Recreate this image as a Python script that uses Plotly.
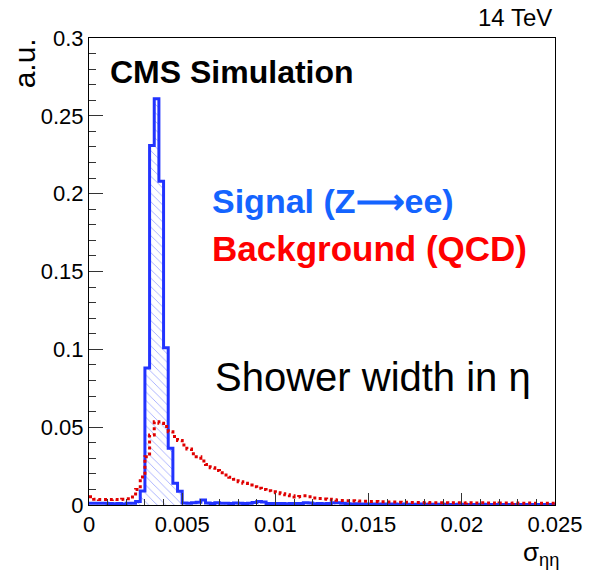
import numpy as np
import plotly.graph_objects as go

# ---- data (100 bins of sigma_ietaieta from 0 to 0.025) ----
x_min = 0.0
x_max = 0.025
n_bins = 100

signal_vals = [
    0.0012, 0.0011, 0.0011, 0.0012, 0.0010, 0.0008, 0.0009, 0.0006, 0.0011, 0.0012,
    0.0022, 0.0090, 0.0880, 0.2310, 0.2610, 0.2080, 0.1010, 0.0365, 0.0140, 0.0088,
    0.0013, 0.0012, 0.0014, 0.0018, 0.0032, 0.0013, 0.0010, 0.0014, 0.0011, 0.0012,
    0.0010, 0.0013, 0.0012, 0.0010, 0.0011, 0.0016, 0.0022, 0.0020, 0.0010, 0.0009,
    0.0010, 0.0009, 0.0008, 0.0009, 0.0010, 0.0009, 0.0015, 0.0013, 0.0008, 0.0009,
    0.0008, 0.0009, 0.0014, 0.0015, 0.0012, 0.0008, 0.0007, 0.0008, 0.0007, 0.0007,
    0.0006, 0.0007, 0.0006, 0.0006, 0.0007, 0.0006, 0.0005, 0.0006, 0.0005, 0.0005,
    0.0005, 0.0006, 0.0005, 0.0005, 0.0004, 0.0005, 0.0005, 0.0004, 0.0004, 0.0005,
    0.0004, 0.0004, 0.0004, 0.0004, 0.0005, 0.0004, 0.0004, 0.0003, 0.0004, 0.0004,
    0.0003, 0.0004, 0.0003, 0.0003, 0.0004, 0.0003, 0.0003, 0.0003, 0.0003, 0.0003,
]

background_vals = [
    0.0053, 0.0037, 0.0035, 0.0036, 0.0035, 0.0036, 0.0035, 0.0037, 0.0040, 0.0052,
    0.0100, 0.0180, 0.0310, 0.0450, 0.0535, 0.0525, 0.0505, 0.0470, 0.0440, 0.0415,
    0.0385, 0.0360, 0.0330, 0.0310, 0.0282, 0.0260, 0.0240, 0.0222, 0.0207, 0.0193,
    0.0178, 0.0165, 0.0150, 0.0139, 0.0128, 0.0118, 0.0108, 0.0100, 0.0092, 0.0085,
    0.0079, 0.0073, 0.0066, 0.0059, 0.0052, 0.0055, 0.0059, 0.0053, 0.0045, 0.0041,
    0.0038, 0.0037, 0.0034, 0.0030, 0.0029, 0.0028, 0.0027, 0.0026, 0.0025, 0.0024,
    0.0023, 0.0022, 0.0021, 0.0021, 0.0020, 0.0019, 0.0018, 0.0017, 0.0017, 0.0016,
    0.0016, 0.0015, 0.0016, 0.0015, 0.0015, 0.0014, 0.0015, 0.0014, 0.0014, 0.0014,
    0.0013, 0.0014, 0.0013, 0.0013, 0.0014, 0.0013, 0.0013, 0.0012, 0.0013, 0.0013,
    0.0012, 0.0013, 0.0012, 0.0012, 0.0013, 0.0012, 0.0012, 0.0012, 0.0011, 0.0012,
]

y_ticks = [0, 0.05, 0.1, 0.15, 0.2, 0.25, 0.3]
x_ticks = [0, 0.005, 0.01, 0.015, 0.02, 0.025]
x_tick_labels = ["0", "0.005", "0.01", "0.015", "0.02", "0.025"]
y_tick_labels = ["0", "0.05", "0.1", "0.15", "0.2", "0.25", "0.3"]

edges = np.linspace(x_min, x_max, n_bins + 1)

def step_xy(vals):
    xs = list(edges)
    ys = list(vals) + [vals[-1]]
    return xs, ys

# ---- figure geometry ----
W, H = 595, 571
L, R, T, B = 89, 30, 38, 66
pw, ph = W - L - R, H - T - B

def px(xp):
    return (xp - L) / pw

def py(yp):
    return (H - B - yp) / ph

FONT = "Liberation Sans, Arial, Helvetica, sans-serif"

fig = go.Figure()

sx, sy = step_xy(signal_vals)
fig.add_trace(go.Scatter(
    x=sx, y=sy, mode="lines", line=dict(color="#2233ff", width=3, shape="hv"),
    fill="tozeroy", fillcolor="rgba(0,0,0,0)",
    fillpattern=dict(shape="\\", fgcolor="#4a5cff", bgcolor="rgba(255,255,255,0)",
                     size=6, solidity=0.15),
    hoverinfo="skip", showlegend=False,
))

bx, by = step_xy(background_vals)
fig.add_trace(go.Scatter(
    x=bx, y=by, mode="lines", line=dict(color="#e00000", width=3, shape="hv", dash="dot"),
    hoverinfo="skip", showlegend=False,
))

axis_common = dict(
    showline=True, linecolor="black", linewidth=1, mirror=True,
    showgrid=False, zeroline=False, ticks="inside", tickcolor="#333333",
    tickwidth=1, tickfont=dict(family=FONT, size=22, color="black"),
)

fig.update_xaxes(
    range=[x_min, x_max], tickvals=x_ticks, ticktext=x_tick_labels, ticklen=12,
    minor=dict(dtick=0.001, ticks="inside", ticklen=6, tickcolor="#333333", tickwidth=1),
    **axis_common,
)
fig.update_yaxes(
    range=[0, 0.3], tickvals=y_ticks, ticktext=y_tick_labels, ticklen=14,
    minor=dict(dtick=0.01, ticks="inside", ticklen=7, tickcolor="#333333", tickwidth=1),
    **axis_common,
)

ann = []
ann.append(dict(text="a.u.", x=px(24), y=py(36), xanchor="center", yanchor="top",
                textangle=-90, font=dict(family=FONT, size=30, color="black")))
ann.append(dict(text="14 TeV", x=px(564), y=py(17.5), xanchor="right", yanchor="middle",
                font=dict(family=FONT, size=24, color="black")))
ann.append(dict(text="<b>CMS Simulation</b>", x=px(108), y=py(72), xanchor="left", yanchor="middle",
                font=dict(family=FONT, size=32, color="black")))
ann.append(dict(text="<b>Signal (Z⟶ee)</b>", x=px(213), y=py(201), xanchor="left", yanchor="middle",
                font=dict(family=FONT, size=34, color="#1464ff")))
ann.append(dict(text="<b>Background (QCD)</b>", x=px(213), y=py(249), xanchor="left", yanchor="middle",
                font=dict(family=FONT, size=35, color="#ff0000")))
ann.append(dict(text="Shower width in η", x=px(216), y=py(377), xanchor="left", yanchor="middle",
                font=dict(family=FONT, size=40, color="black")))
ann.append(dict(text="σ<sub>ηη</sub>", x=px(571), y=py(553), xanchor="right", yanchor="middle",
                font=dict(family=FONT, size=26, color="black")))

for a in ann:
    a.update(xref="paper", yref="paper", showarrow=False)

fig.update_layout(
    width=W, height=H, margin=dict(l=L, r=R, t=T, b=B),
    paper_bgcolor="white", plot_bgcolor="white",
    annotations=ann,
)

fig.write_html("out.html")
